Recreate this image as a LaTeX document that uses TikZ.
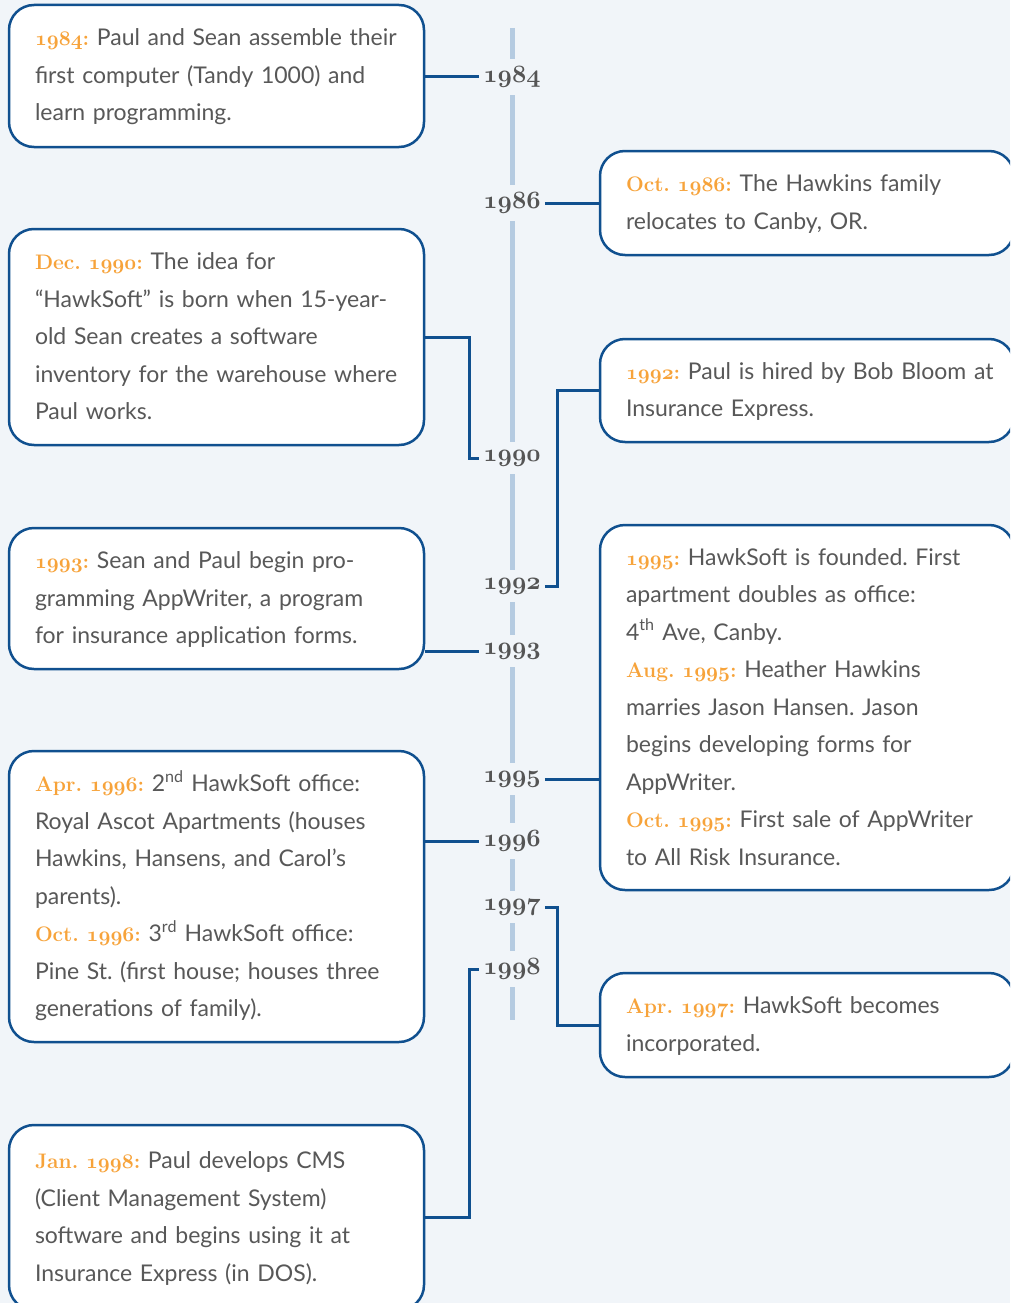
\documentclass[tikz,border=0pt]{standalone}
\usepackage{fontspec}
\setmainfont{Lato}
\newfontfamily\yearfont{Latin Modern Roman}
\definecolor{hsbg}{HTML}{F1F5F9}
\definecolor{hsblue}{HTML}{10508F}
\definecolor{hsline}{HTML}{B5CBE1}
\definecolor{hsorange}{HTML}{F7A33A}
\definecolor{hstext}{HTML}{585858}
\definecolor{hsyear}{HTML}{555555}
\newcommand\osn[1]{\ensuremath{\mathnormal{#1}}}
\newcommand\yrlead[2]{{\yearfont\bfseries\boldmath\color{hsorange}\fontsize{21}{37.5}\selectfont#1\osn{#2}:}}
\tikzset{
  event/.style={draw=hsblue, line width=2.5pt, fill=white, rounded corners=25pt,
    inner xsep=16pt, inner ysep=0pt, align=left, text=hstext,
    font=\fontsize{23}{37.5}\selectfont\frenchspacing,
    execute at begin node={\leftskip=10pt\strut}, execute at end node=\strut},
  levent/.style={event, minimum height=#1, text width=383pt},
  revent/.style={event, minimum height=#1, text width=382pt},
  yearlbl/.style={fill=hsbg, text=hsyear, inner xsep=4pt, inner ysep=8pt,
    font=\fontsize{25}{30}\selectfont\boldmath},
  link/.style={draw=hsblue, line width=3pt},
  timeline/.style={draw=hsline, line width=5pt}
}
\begin{document}
\begin{tikzpicture}[x=1pt,y=-1pt]
\useasboundingbox (0,0) rectangle (1010,1303);
\fill[hsbg] (0,0) rectangle (1010,1303);
\clip (0,0) rectangle (1010,1303);
\draw[timeline] (512,28) -- (512,1020);
\foreach \yy/\y in {1984/77,1986/203,1990/458,1992/586,1993/651,1995/779,1996/841,1997/907,1998/969}
  \node[yearlbl] (y\yy) at (512,\y) {\osn{\yy}};
\node[levent=142] (b1) at (216.5,76) {\yrlead{}{1984} Paul and Sean assemble their\\ first computer (Tandy 1000) and\\ learn programming.};
\node[revent=104] (b2) at (807,203) {\yrlead{Oct. }{1986} The Hawkins family\\ relocates to Canby, OR.};
\node[levent=216] (b3) at (216.5,337) {\yrlead{Dec. }{1990} The idea for\\ “HawkSoft” is born when 15-year-\\ old Sean creates a software\\ inventory for the warehouse where\\ Paul works.};
\node[revent=103] (b4) at (807,390.5) {\yrlead{}{1992} Paul is hired by Bob Bloom at\\ Insurance Express.};
\node[levent=141] (b5) at (216.5,598.5) {\yrlead{}{1993} Sean and Paul begin pro-\\ gramming AppWriter, a program\\ for insurance application forms.};
\node[revent=365] (b6) at (807,707.5) {\yrlead{}{1995} HawkSoft is founded. First\\ apartment doubles as office:\\ 4\textsuperscript{th} Ave, Canby.\\ \yrlead{Aug. }{1995} Heather Hawkins\\ marries Jason Hansen. Jason\\ begins developing forms for\\ AppWriter.\\ \yrlead{Oct. }{1995} First sale of AppWriter\\ to All Risk Insurance.};
\node[levent=291] (b7) at (216.5,896.5) {\yrlead{Apr. }{1996} 2\textsuperscript{nd} HawkSoft office:\\ Royal Ascot Apartments (houses\\ Hawkins, Hansens, and Carol’s\\ parents).\\ \yrlead{Oct. }{1996} 3\textsuperscript{rd} HawkSoft office:\\ Pine St. (first house; houses three\\ generations of family).};
\node[revent=104] (b8) at (807,1025) {\yrlead{Apr. }{1997} HawkSoft becomes\\ incorporated.};
\node[levent=185] (b9) at (216.5,1217.5) {\yrlead{Jan. }{1998} Paul develops CMS\\ (Client Management System)\\ software and begins using it at\\ Insurance Express (in DOS).};
\draw[link] (b1.east |- y1984.west) -- (y1984.west);
\draw[link] (y1986.east) -- (y1986.east -| b2.west);
\draw[link] (b3.east) -- ++(44,0) |- (y1990.west);
\draw[link] (y1992.east) -- ++(13,0) |- (b4.west);
\draw[link] (b5.east |- y1993.west) -- (y1993.west);
\draw[link] (y1995.east) -- (y1995.east -| b6.west);
\draw[link] (b7.east |- y1996.west) -- (y1996.west);
\draw[link] (y1997.east) -- ++(13,0) |- (b8.west);
\draw[link] (b9.east) -- ++(44,0) |- (y1998.west);
\end{tikzpicture}
\end{document}
